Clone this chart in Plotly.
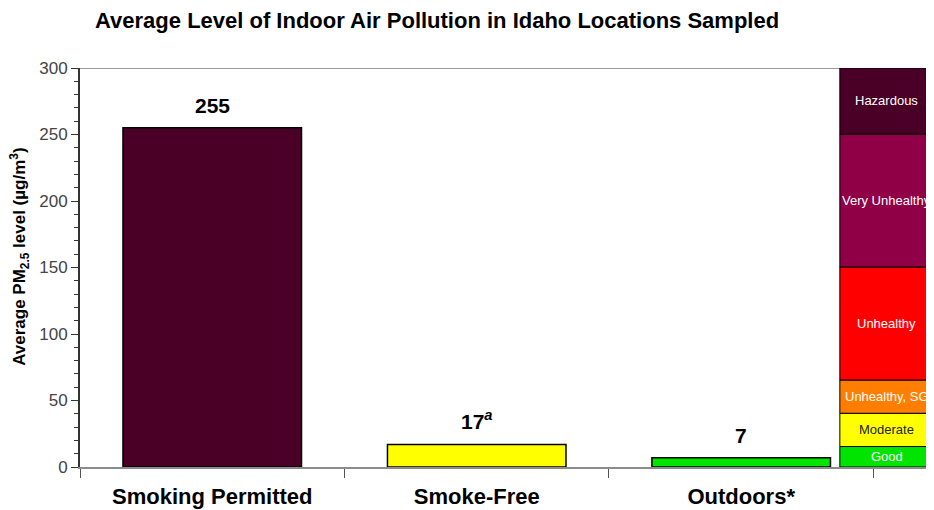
import plotly.graph_objects as go

categories = ["Smoking Permitted", "Smoke-Free", "Outdoors*"]
values = [255, 17, 7]
value_labels = ["255", "17<sup><i>a</i></sup>", "7"]
bar_colors = ["#4A0026", "#FFFF00", "#00E400"]

aqi_names = ["Good", "Moderate", "Unhealthy, SG", "Unhealthy", "Very Unhealthy", "Hazardous"]
aqi_low = [0, 15.4, 40.4, 65.4, 150.4, 250.4]
aqi_high = [15.4, 40.4, 65.4, 150.4, 250.4, 300]
aqi_colors = ["#00E400", "#FFFF00", "#FF7E00", "#FF0000", "#8F0047", "#4A0026"]
aqi_text_colors = ["white", "#222222", "white", "white", "white", "white"]

xpos = list(range(len(categories)))
band_left, band_right = 2.373, 2.729
band_center = (band_left + band_right) / 2
FONT = "Liberation Sans, Arial"

fig = go.Figure()
fig.add_trace(go.Bar(
    x=xpos, y=values, width=0.675,
    marker=dict(color=bar_colors, line=dict(color="black", width=1.5)),
    hoverinfo="skip", showlegend=False,
))
fig.add_trace(go.Bar(
    x=[band_center] * len(aqi_names),
    y=[h - l for l, h in zip(aqi_low, aqi_high)],
    base=aqi_low, width=band_right - band_left,
    marker=dict(color=aqi_colors, line=dict(color="black", width=1)),
    hoverinfo="skip", showlegend=False,
))

annotations = []
for x, v, t in zip(xpos, values, value_labels):
    annotations.append(dict(x=x, y=v, xref="x", yref="y", text=t, showarrow=False,
                            yanchor="bottom", yshift=9,
                            font=dict(family=FONT, size=21, color="black", weight="bold")))
for n, l, h, c in zip(aqi_names, aqi_low, aqi_high, aqi_text_colors):
    annotations.append(dict(x=band_center, y=(l + h) / 2, xref="x", yref="y", text=n, showarrow=False,
                            font=dict(family=FONT, size=13, color=c)))
# y-axis title, placed slightly above the plot's vertical center as in the reference
annotations.append(dict(x=0, y=158, xref="paper", yref="y", xshift=-60, textangle=-90,
                        xanchor="center", yanchor="middle",
                        text="<b>Average PM<sub>2.5</sub> level (µg/m<sup>3</sup>)</b>", showarrow=False,
                        font=dict(family=FONT, size=17, color="black")))

fig.update_layout(
    width=926, height=502,
    margin=dict(l=72, r=0, t=60, b=43),
    plot_bgcolor="white", paper_bgcolor="white",
    barmode="overlay",
    title=dict(text="<b>Average Level of Indoor Air Pollution in Idaho Locations Sampled</b>",
               x=(95 - 8) / 926, xanchor="left", y=1 - (12) / 502, yanchor="middle",
               font=dict(family=FONT, size=22, color="black")),
    xaxis=dict(range=[-0.5, band_right], tickvals=xpos, ticktext=["<b>%s</b>" % c for c in categories],
               ticks="", showgrid=False, zeroline=False,
               showline=True, linecolor="#8c8c8c", linewidth=2,
               tickfont=dict(family=FONT, size=22, color="black"),
               minor=dict(tickvals=[-0.5, 0.5, 1.5, 2.5], ticks="outside", ticklen=9, tickcolor="#555", tickwidth=1),
               ticklabelstandoff=9),
    yaxis=dict(range=[0, 300], tickvals=[0, 50, 100, 150, 200, 250, 300],
               ticks="outside", ticklen=7, tickcolor="#333", showgrid=False, zeroline=False,
               showline=True, linecolor="#333", linewidth=2,
               minor=dict(dtick=10, ticks="outside", ticklen=4, tickcolor="#333"),
               tickfont=dict(family=FONT, size=17, color="#444")),
    shapes=[dict(type="line", xref="x", yref="y", x0=-0.5, x1=2.5, y0=300, y1=300,
                 line=dict(color="#9a9a9a", width=2), layer="below")],
    annotations=annotations,
)

fig.write_html("out.html")
